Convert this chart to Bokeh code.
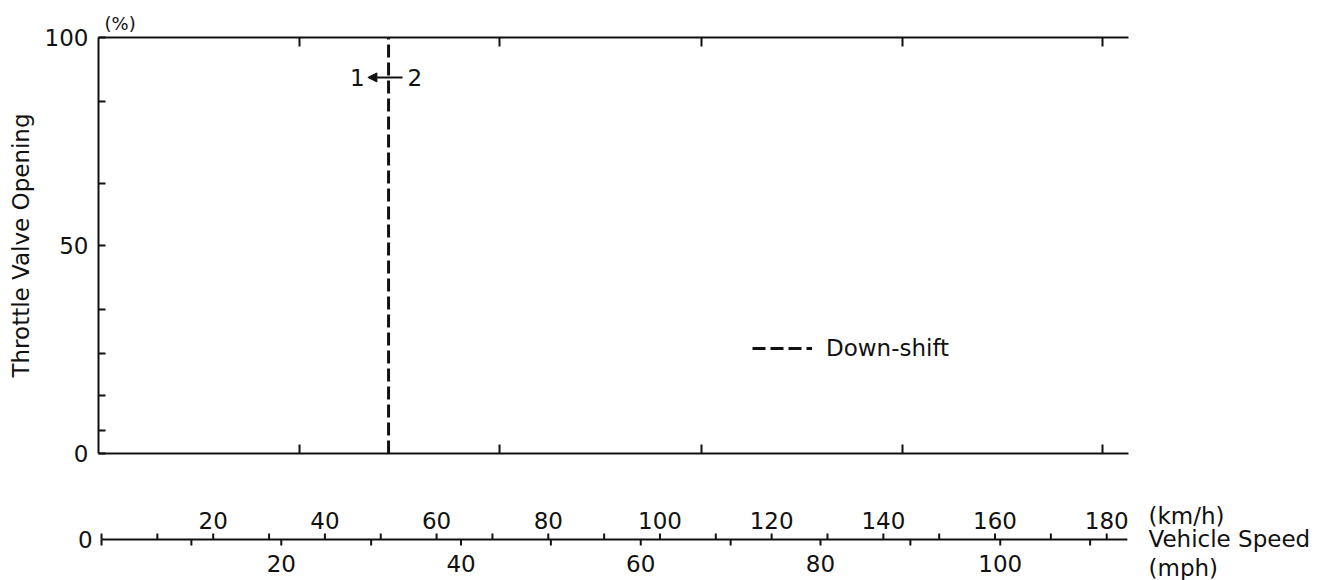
from bokeh.plotting import figure
from bokeh.layouts import column
from bokeh.models import (LinearAxis, FixedTicker, Range1d, Label, Arrow, NormalHead,
                          CustomJSTickFormatter, Legend, LegendItem, Title)
from bokeh.core.properties import value
from bokeh.embed import file_html
from bokeh.resources import INLINE

# ---------------- data ----------------
throttle_major = [0, 50, 100]
throttle_minor = [5.5, 14, 24, 34.5, 65, 84.5]
downshift_kmh = 51.4            # 1 <- 2 kick-down point
downshift_throttle = [0, 100]   # vertical extent (%)
arrow_throttle = 90.4
kmh_major = [20, 40, 60, 80, 100, 120, 140, 160, 180]
kmh_minor = [0, 10, 30, 50, 70, 90, 110, 130, 150, 170]
mph_major = [20, 40, 60, 80, 100]
mph_minor = [0, 10, 30, 50, 70, 90, 110]
inner_ticks_kmh = [35.5, 71.3, 107.5, 143.4, 179.3]
KMH_PER_MPH = 1.609344
x_start, x_end = -0.54, 183.9
axis_end = 183.7
side_labels = ["(km/h)", "Vehicle Speed", "(mph)"]

# ---------------- layout constants ----------------
FONT = "DejaVu Sans"
FS = "23px"
TOTAL_W = 1320
LEFT = 98
FRAME_W = 1030
RIGHT = TOTAL_W - LEFT - FRAME_W
TOP = 37
FRAME_H = 416
BOTTOM = 20
BLACK = "#111111"

# ---------------- main chart ----------------
p = figure(frame_width=FRAME_W, frame_height=FRAME_H,
           x_range=Range1d(x_start, x_end), y_range=Range1d(0, 100),
           x_axis_type=None, y_axis_type=None,
           output_backend="svg", toolbar_location=None,
           min_border_left=LEFT, min_border_right=RIGHT,
           min_border_top=TOP, min_border_bottom=BOTTOM)
p.frame_align = False
p.outline_line_color = None
p.background_fill_color = "white"
p.border_fill_color = "white"

yax = LinearAxis(ticker=FixedTicker(ticks=throttle_major, minor_ticks=throttle_minor),
                 axis_label="Throttle Valve Opening")
yax.axis_line_width = 2
yax.axis_line_color = BLACK
yax.major_tick_in = 7
yax.major_tick_out = 0
yax.minor_tick_in = 7
yax.minor_tick_out = 0
yax.major_tick_line_width = 2
yax.minor_tick_line_width = 2
yax.major_tick_line_color = BLACK
yax.minor_tick_line_color = BLACK
yax.major_label_text_font = FONT
yax.major_label_text_font_size = FS
yax.major_label_text_color = BLACK
yax.major_label_standoff = 10
yax.axis_label_text_font = FONT
yax.axis_label_text_font_size = FS
yax.axis_label_text_font_style = "normal"
yax.axis_label_text_color = BLACK
yax.axis_label_standoff = 8
p.add_layout(yax, "left")

for loc in ("above", "below"):
    ax = LinearAxis(ticker=FixedTicker(ticks=inner_ticks_kmh),
                    formatter=CustomJSTickFormatter(code="return ''"))
    ax.axis_line_width = 2
    ax.axis_line_color = BLACK
    ax.major_tick_in = 9
    ax.major_tick_out = 0
    ax.major_tick_line_width = 2
    ax.major_tick_line_color = BLACK
    ax.minor_tick_line_color = None
    ax.major_label_standoff = 0
    ax.major_label_text_font_size = "6px"
    p.add_layout(ax, loc)

p.add_layout(Title(text="(%)", align="left", offset=6, standoff=7,
                   text_font=FONT, text_font_size="18px",
                   text_font_style="normal", text_color=BLACK), "above")

r = p.line(x=[downshift_kmh, downshift_kmh], y=downshift_throttle,
           line_color=BLACK, line_width=3, line_dash="13 5")

legend = Legend(items=[LegendItem(label="Down-shift", renderers=[r])],
                location=(654, 92), glyph_width=60, glyph_height=20,
                label_standoff=14, padding=0, margin=0,
                border_line_color=None, background_fill_alpha=0,
                label_text_font=FONT, label_text_font_size=FS,
                label_text_color=BLACK)
p.add_layout(legend)

p.add_layout(Label(x=downshift_kmh, y=arrow_throttle, x_offset=-24, text="1",
                   text_align="right", text_baseline="middle",
                   text_font=FONT, text_font_size=FS, text_color=BLACK))
p.add_layout(Label(x=downshift_kmh, y=arrow_throttle, x_offset=19, text="2",
                   text_align="left", text_baseline="middle",
                   text_font=FONT, text_font_size=FS, text_color=BLACK))
p.add_layout(Arrow(x_start=downshift_kmh + 2.5, y_start=arrow_throttle,
                   x_end=downshift_kmh - 3.7, y_end=arrow_throttle,
                   line_width=2, line_color=BLACK,
                   end=NormalHead(size=9, fill_color=BLACK, line_color=BLACK)))

# ---------------- speed scale (km/h above, mph below) ----------------
px_per_kmh = FRAME_W / (x_end - x_start)
B_LEFT = 60
bx0 = x_start - (LEFT - B_LEFT) / px_per_kmh
bx1 = x_start + (TOTAL_W - LEFT) / px_per_kmh
B_H = 107
b = figure(frame_width=TOTAL_W - B_LEFT, frame_height=B_H,
           x_range=Range1d(bx0, bx1), y_range=Range1d(-41, B_H - 41),
           x_axis_type=None, y_axis_type=None,
           output_backend="svg", toolbar_location=None,
           min_border_left=B_LEFT, min_border_right=0,
           min_border_top=0, min_border_bottom=0)
b.frame_align = False
b.outline_line_color = None
b.background_fill_color = "white"
b.border_fill_color = "white"

# scale line
b.segment(x0=[0], y0=[0], x1=[axis_end], y1=[0], line_color=BLACK, line_width=2)
# km/h ticks (up)
kmh_all = kmh_minor + kmh_major
b.segment(x0=kmh_all, y0=[0] * len(kmh_all), x1=kmh_all, y1=[6] * len(kmh_all),
          line_color=BLACK, line_width=2)
# mph ticks (down)
mph_all = [m * KMH_PER_MPH for m in mph_minor + mph_major]
b.segment(x0=mph_all, y0=[0] * len(mph_all), x1=mph_all, y1=[-6] * len(mph_all),
          line_color=BLACK, line_width=2)
# labels
b.text(x=kmh_major, y=[19] * len(kmh_major), text=[str(v) for v in kmh_major],
       text_align="center", text_baseline="middle",
       text_font=value(FONT), text_font_size=value(FS), text_color=BLACK)
mph_major_x = [m * KMH_PER_MPH for m in mph_major]
b.text(x=mph_major_x, y=[-24] * len(mph_major), text=[str(v) for v in mph_major],
       text_align="center", text_baseline="middle",
       text_font=value(FONT), text_font_size=value(FS), text_color=BLACK)
b.text(x=[0], y=[0], text=["0"], x_offset=-9, text_align="right", text_baseline="middle",
       text_font=value(FONT), text_font_size=value(FS), text_color=BLACK)
b.text(x=[x_end] * 3, y=[24, 1, -28], text=side_labels, x_offset=20,
       text_align="left", text_baseline="middle",
       text_font=value(FONT), text_font_size=value(FS), text_color=BLACK)

layout = column(p, b, spacing=0)
open("out.html", "w").write(file_html(layout, INLINE))
